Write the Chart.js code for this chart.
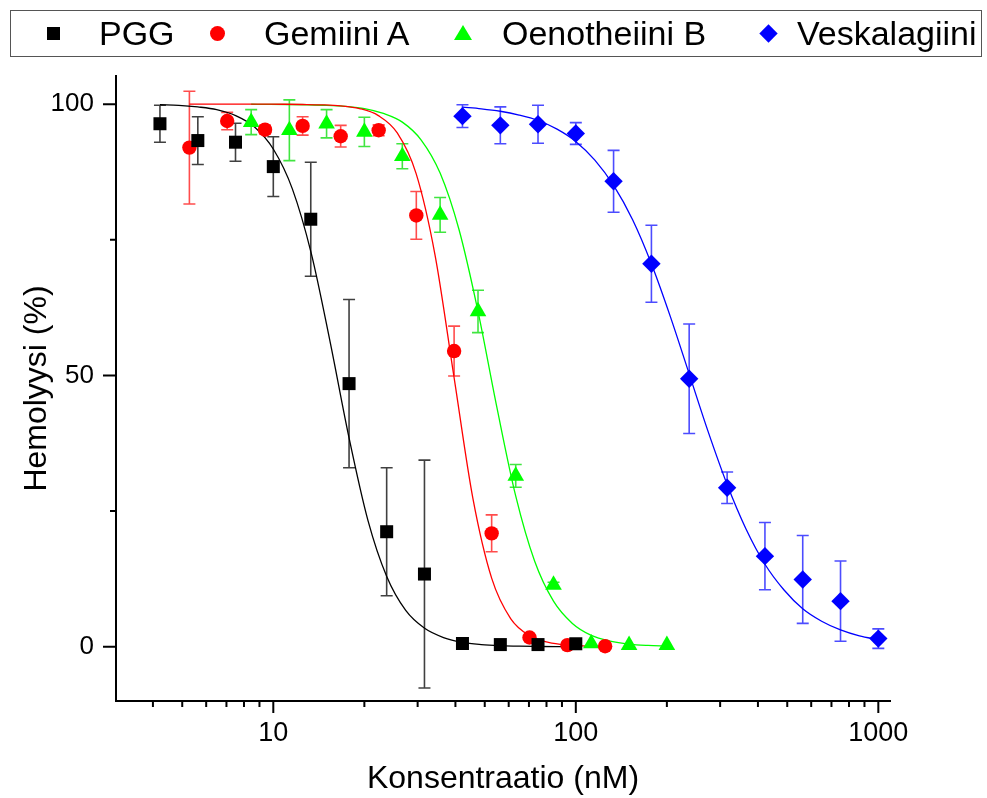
<!DOCTYPE html>
<html>
<head>
<meta charset="utf-8">
<script src="https://cdn.jsdelivr.net/npm/chart.js@4.4.1/dist/chart.umd.min.js"></script>
<style>
  html, body { margin: 0; padding: 0; background: #fff; }
  #wrap { position: relative; width: 987px; height: 798px; font-family: "Liberation Sans", Arial, sans-serif; }
  #hemoChart { position: absolute; left: 0; top: 0; }
  #legendBox { position: absolute; left: 10px; top: 10px; width: 970px; height: 45px; border: 1.5px solid #555; }
  .lg-text { position: absolute; top: 15px; font-size: 34px; line-height: 36px; color: #000; white-space: nowrap; }
  .lg-mark { position: absolute; }
</style>
</head>
<body>
<div id="wrap">
  <canvas id="hemoChart" width="987" height="798"></canvas>
  <div id="legendBox"></div>
  <div id="legendItems"></div>
</div>
<script>
/* ── data ── */
const pggConc  = [4.22, 5.63, 7.5, 10, 13.3, 17.8, 23.7, 31.6, 42.2, 56.3, 75, 100];
const pggHemo  = [96.4, 93.3, 93.0, 88.5, 78.8, 48.5, 21.2, 13.4, 0.6, 0.4, 0.4, 0.55];
const pggErr   = [3.4, 4.4, 3.5, 5.5, 10.5, 15.5, 11.8, 21.0, 0, 0, 0, 0];

const gemConc  = [5.28, 7.04, 9.39, 12.5, 16.7, 22.3, 29.7, 39.6, 52.7, 70.3, 93.8, 125];
const gemHemo  = [92.0, 96.9, 95.3, 96.0, 94.1, 95.2, 79.5, 54.5, 20.9, 1.7, 0.3, 0.1];
const gemErr   = [10.4, 1.6, 0.8, 1.7, 2.0, 1.0, 4.4, 4.6, 3.4, 0, 0, 0];

const oenoConc = [8.45, 11.3, 15.0, 20.0, 26.7, 35.6, 47.5, 63.3, 84.4, 112.5, 150, 200];
const oenoHemo = [96.7, 95.2, 96.4, 94.9, 90.4, 79.6, 61.8, 31.5, 11.4, 0.6, 0.3, 0.3];
const oenoErr  = [2.3, 5.6, 2.6, 2.7, 2.3, 3.2, 3.9, 2.1, 0.5, 0, 0, 0];

const veskConc = [42.2, 56.3, 75, 100, 133.3, 177.8, 237, 316.4, 421.9, 562.5, 750, 1000];
const veskHemo = [97.8, 96.1, 96.3, 94.6, 85.8, 70.6, 49.4, 29.3, 16.7, 12.4, 8.4, 1.5];
const veskErr  = [2.1, 3.4, 3.5, 2.0, 5.7, 7.1, 10.1, 2.9, 6.2, 8.1, 7.4, 1.8];

// fitted curves, sampled along the drawn lines
const pggFitX  = [4.22, 4.87, 5.63, 6.5, 7.51, 8.67, 10.01, 11.56, 13.35, 15.41, 17.8, 20.55, 23.73, 27.4, 31.64, 36.53, 42.19, 48.7, 56.25, 64.95, 75, 86.6, 100];
const pggFitY  = [99.9, 99.8, 99.5, 99.0, 97.9, 95.8, 91.7, 84.4, 72.5, 56.2, 38.5, 23.3, 12.9, 6.7, 3.4, 1.7, 0.8, 0.4, 0.2, 0.1, 0.05, 0.02, 0.01];
const gemFitX  = [5.28, 6.1, 7.04, 8.13, 9.39, 10.84, 12.51, 14.45, 16.69, 19.27, 22.25, 25.69, 29.66, 34.25, 39.55, 45.67, 52.73, 60.89, 70.31, 81.19, 93.75, 108.3, 125];
const gemFitY  = [100, 100, 100, 100, 100, 99.99, 99.95, 99.88, 99.7, 99.2, 97.9, 94.7, 87.2, 72.2, 49.8, 27.4, 12.6, 5.2, 2.05, 0.8, 0.3, 0.12, 0.04];
const oenoFitX = [8.45, 9.76, 11.26, 13.0, 15.02, 17.34, 20.02, 23.12, 26.7, 30.83, 35.6, 41.1, 47.46, 54.8, 63.28, 73.07, 84.38, 97.43, 112.5, 129.9, 150, 173.2, 200];
const oenoFitY = [99.99, 99.98, 99.95, 99.9, 99.8, 99.6, 99.2, 98.3, 96.7, 93.4, 87.3, 76.9, 61.9, 44.2, 27.8, 15.8, 8.4, 4.3, 2.1, 1.05, 0.5, 0.25, 0.12];
const veskFitX = [42.19, 48.7, 56.25, 64.95, 75.08, 86.7, 100.1, 115.6, 133.5, 154.1, 178, 205.5, 237.3, 274, 316.4, 365.3, 421.9, 487.1, 562.5, 649.5, 750, 866, 1000];
const veskFitY = [99.45, 99.15, 98.7, 98.0, 97.0, 95.4, 93.1, 89.7, 85.0, 78.7, 70.5, 60.8, 50.2, 39.6, 29.9, 21.7, 15.2, 10.5, 7.0, 4.7, 3.1, 2.0, 1.3];

const seriesNames = ['PGG', 'Gemiini A', 'Oenotheiini B', 'Veskalagiini'];

const xMajorTicks = [10, 100, 1000];
const xMinorTicks = [4, 5, 6, 7, 8, 9, 20, 30, 40, 50, 60, 70, 80, 90, 200, 300, 400, 500, 600, 700, 800, 900];
const yMajorTicks = [0, 50, 100];
const yMinorTicks = [25, 75];

/* ── styling ── */
const COLORS   = ['#000000', '#ff0000', '#00ff00', '#0000ff'];
const BAR_COLS = ['rgba(0,0,0,0.75)', 'rgba(255,0,0,0.7)', 'rgba(0,220,0,0.75)', 'rgba(0,0,255,0.7)'];
const SHAPES   = ['rect', 'circle', 'triangle', 'rectRot'];
const RADII    = [9.2, 7.2, 9.6, 9.2];

const series = [
    { conc: pggConc,  hemo: pggHemo,  err: pggErr,  fitX: pggFitX,  fitY: pggFitY },
    { conc: gemConc,  hemo: gemHemo,  err: gemErr,  fitX: gemFitX,  fitY: gemFitY },
    { conc: oenoConc, hemo: oenoHemo, err: oenoErr, fitX: oenoFitX, fitY: oenoFitY },
    { conc: veskConc, hemo: veskHemo, err: veskErr, fitX: veskFitX, fitY: veskFitY }
];

const toPts = (xs, ys) => xs.map((x, i) => ({ x, y: ys[i] }));

const datasets = [];
series.forEach((s, i) => {
    datasets.push({
        label: seriesNames[i],
        data: toPts(s.conc, s.hemo),
        pointStyle: SHAPES[i],
        pointRadius: RADII[i],
        pointBorderWidth: 0,
        backgroundColor: COLORS[i],
        borderColor: COLORS[i],
        showLine: false,
        order: 0
    });
});
series.forEach((s, i) => {
    datasets.push({
        label: seriesNames[i] + ' fit',
        data: toPts(s.fitX, s.fitY),
        showLine: true,
        pointRadius: 0,
        borderColor: COLORS[i],
        borderWidth: 1.3,
        cubicInterpolationMode: 'monotone',
        order: 1
    });
});

/* ── error bars, drawn under the markers ── */
const errorBars = {
    id: 'errorBars',
    beforeDatasetsDraw(chart) {
        const { ctx, scales: { x, y } } = chart;
        ctx.save();
        ctx.lineWidth = 1.6;
        series.forEach((s, i) => {
            ctx.strokeStyle = BAR_COLS[i];
            ctx.beginPath();
            s.conc.forEach((c, k) => {
                const e = s.err[k];
                if (!e) return;
                const px = x.getPixelForValue(c);
                const top = y.getPixelForValue(s.hemo[k] + e);
                const bot = y.getPixelForValue(s.hemo[k] - e);
                ctx.moveTo(px, top); ctx.lineTo(px, bot);
                ctx.moveTo(px - 6, top); ctx.lineTo(px + 6, top);
                ctx.moveTo(px - 6, bot); ctx.lineTo(px + 6, bot);
            });
            ctx.stroke();
        });
        ctx.restore();
    }
};

/* ── outward tick marks, major longer than minor ── */
const axisTicks = {
    id: 'axisTicks',
    afterDraw(chart) {
        const { ctx, chartArea: a, scales: { x, y } } = chart;
        ctx.save();
        ctx.strokeStyle = '#000';
        ctx.lineWidth = 2;
        ctx.beginPath();
        xMajorTicks.forEach(v => { const p = x.getPixelForValue(v); ctx.moveTo(p, a.bottom); ctx.lineTo(p, a.bottom + 12); });
        xMinorTicks.forEach(v => { const p = x.getPixelForValue(v); ctx.moveTo(p, a.bottom); ctx.lineTo(p, a.bottom + 6); });
        yMajorTicks.forEach(v => { const p = y.getPixelForValue(v); ctx.moveTo(a.left, p); ctx.lineTo(a.left - 13, p); });
        yMinorTicks.forEach(v => { const p = y.getPixelForValue(v); ctx.moveTo(a.left, p); ctx.lineTo(a.left - 6, p); });
        ctx.stroke();
        ctx.restore();
    }
};

const FONT = '"Liberation Sans", Arial, sans-serif';

new Chart(document.getElementById('hemoChart'), {
    type: 'scatter',
    data: { datasets },
    options: {
        responsive: false,
        animation: false,
        devicePixelRatio: 1,
        layout: { padding: { top: 76, right: 97, left: 0, bottom: 0 } },
        plugins: { legend: { display: false }, tooltip: { enabled: false } },
        scales: {
            x: {
                type: 'logarithmic',
                min: 3.02,
                max: 1093,
                afterBuildTicks: s => { s.ticks = xMajorTicks.map(v => ({ value: v })); },
                afterFit: s => { s.height = 97; },
                grid: { display: false, drawTicks: false },
                border: { display: true, color: '#000', width: 2 },
                ticks: { color: '#000', padding: 16, maxRotation: 0, font: { family: FONT, size: 27 }, callback: v => String(v) },
                title: { display: true, text: 'Konsentraatio (nM)', color: '#000', font: { family: FONT, size: 32 }, padding: { top: 0, bottom: 0 } }
            },
            y: {
                min: -10,
                max: 105.2,
                afterBuildTicks: s => { s.ticks = yMajorTicks.map(v => ({ value: v })); },
                afterFit: s => { s.width = 116; },
                grid: { display: false, drawTicks: false },
                border: { display: true, color: '#000', width: 2 },
                ticks: { color: '#000', padding: 22, font: { family: FONT, size: 26 }, callback: v => String(v) },
                title: { display: true, text: 'Hemolyysi (%)', color: '#000', font: { family: FONT, size: 32 }, padding: { top: 18, bottom: 0 } }
            }
        }
    },
    plugins: [errorBars, axisTicks]
});

/* ── legend row ── */
const legendMarkX = [53, 217, 463, 768];
const legendTextX = [99, 264, 502, 797];
const legendItems = document.getElementById('legendItems');
legendItems.innerHTML = seriesNames.map((name, i) => {
    let mark;
    if (i === 0) mark = `<div class="lg-mark" style="left:${legendMarkX[i] - 6}px;top:27px;width:13px;height:13px;background:${COLORS[i]}"></div>`;
    else if (i === 1) mark = `<div class="lg-mark" style="left:${legendMarkX[i] - 7}px;top:26px;width:15px;height:15px;border-radius:50%;background:${COLORS[i]}"></div>`;
    else if (i === 2) mark = `<div class="lg-mark" style="left:${legendMarkX[i] - 9}px;top:25px;width:0;height:0;border-left:9px solid transparent;border-right:9px solid transparent;border-bottom:15px solid ${COLORS[i]}"></div>`;
    else mark = `<div class="lg-mark" style="left:${legendMarkX[i] - 6}px;top:27px;width:13px;height:13px;transform:rotate(45deg);background:${COLORS[i]}"></div>`;
    return mark + `<span class="lg-text" style="left:${legendTextX[i]}px">${name}</span>`;
}).join('');
</script>
</body>
</html>
